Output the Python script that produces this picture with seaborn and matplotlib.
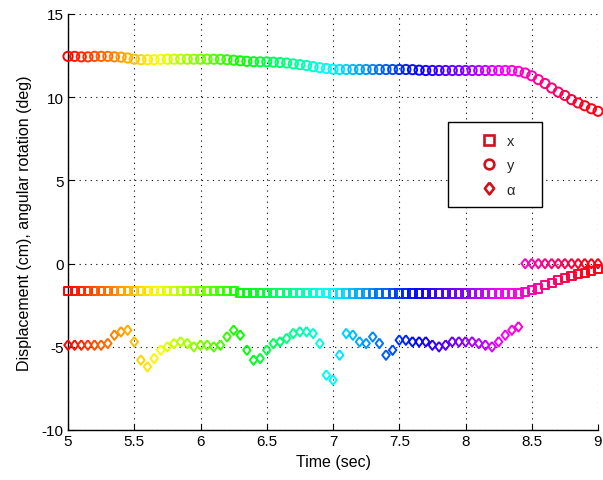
import numpy as np
import pandas as pd
import matplotlib
matplotlib.use("Agg")
import matplotlib.pyplot as plt
import seaborn as sns
from matplotlib.lines import Line2D
from matplotlib.patches import Rectangle

# ---------------- data ----------------
time = [round(5.0 + 0.05 * i, 2) for i in range(81)]

y_disp = [12.45, 12.45, 12.42, 12.42, 12.45, 12.45, 12.45, 12.42, 12.40, 12.35,
          12.28, 12.25, 12.25, 12.25, 12.27, 12.28, 12.28, 12.28, 12.28, 12.28,
          12.28, 12.28, 12.28, 12.27, 12.25, 12.22, 12.18, 12.15, 12.13, 12.12,
          12.12, 12.10, 12.08, 12.05, 12.00, 11.95, 11.90, 11.83, 11.77, 11.72,
          11.68, 11.66, 11.66, 11.66, 11.66, 11.66, 11.66, 11.66, 11.66, 11.66,
          11.66, 11.66, 11.65, 11.62, 11.60, 11.60, 11.60, 11.60, 11.60, 11.60,
          11.60, 11.60, 11.60, 11.60, 11.60, 11.60, 11.60, 11.60, 11.55, 11.45,
          11.28, 11.05, 10.82, 10.55, 10.30, 10.10, 9.85, 9.65, 9.48, 9.30,
          9.15]

x_disp = [-1.65] * 26 + [-1.75] * 14 + [-1.80] * 29 + \
         [-1.70, -1.60, -1.50, -1.30, -1.15, -1.00, -0.85, -0.75, -0.65, -0.55,
          -0.45, -0.35]

alpha_rot = [-4.9, -4.9, -4.9, -4.9, -4.9, -4.9, -4.8, -4.3, -4.1, -4.0,
             -4.7, -5.8, -6.2, -5.7, -5.2, -5.0, -4.8, -4.7, -4.8, -5.0,
             -4.9, -4.9, -5.0, -4.9, -4.4, -4.0, -4.3, -5.2, -5.8, -5.7,
             -5.2, -4.8, -4.7, -4.5, -4.2, -4.1, -4.1, -4.2, -4.8, -6.7,
             -7.0, -5.5, -4.2, -4.3, -4.7, -4.8, -4.4, -4.8, -5.5, -5.2,
             -4.6, -4.6, -4.7, -4.7, -4.7, -4.9, -5.0, -4.9, -4.7, -4.7,
             -4.7, -4.7, -4.8, -4.9, -5.0, -4.7, -4.3, -4.0, -3.8,
             0.0, 0.0, 0.0, 0.0, 0.0, 0.0, 0.0, 0.0, 0.0, 0.0, 0.0, 0.0]

series_names = ["x", "y", "\u03b1"]
x_ticks = [5, 5.5, 6, 6.5, 7, 7.5, 8, 8.5, 9]
x_tick_labels = ["5", "5.5", "6", "6.5", "7", "7.5", "8", "8.5", "9"]
y_ticks = [-10, -5, 0, 5, 10, 15]
y_tick_labels = ["-10", "-5", "0", "5", "10", "15"]

# ---------------- plot ----------------
sns.set_theme(style="white")
plt.rcParams["font.family"] = ["Liberation Sans", "DejaVu Sans"]

fig = plt.figure(figsize=(6.03, 4.81), dpi=100)
ax = fig.add_axes([0.1128, 0.104, 0.8789, 0.865])

df = pd.DataFrame({
    "time": time * 3,
    "value": x_disp + y_disp + alpha_rot,
    "series": [series_names[0]] * 81 + [series_names[1]] * 81 + [series_names[2]] * 81,
})

diamond = [(0, 1), (0.78, 0), (0, -1), (-0.78, 0), (0, 1)]
marker_map = {"x": ("s", 34), "y": ("o", 44), "\u03b1": (diamond, 48)}
for name in series_names:
    sub = df[df["series"] == name]
    mk, sz = marker_map[name]
    sns.scatterplot(data=sub, x="time", y="value", hue="time", palette="hsv",
                    hue_norm=(5, 8.9), marker=mk, s=sz, legend=False, ax=ax,
                    linewidth=1.4, clip_on=False, zorder=3)
    coll = ax.collections[-1]
    fc = coll.get_facecolors()
    coll.set_edgecolors(fc)
    coll.set_facecolors("none")
    coll.set_linewidths(1.4)

ax.set_xlim(5, 9)
ax.set_ylim(-10, 15)
ax.set_xticks(x_ticks)
ax.set_xticklabels(x_tick_labels)
ax.set_yticks(y_ticks)
ax.set_yticklabels(y_tick_labels)
ax.tick_params(axis="both", direction="in", length=4, width=0.8, colors="black",
               labelsize=11, pad=3, left=True, bottom=True)
ax.grid(True, linestyle=(0, (1, 4)), color="black", linewidth=0.8)
for side in ["top", "right"]:
    ax.spines[side].set_visible(False)
for side in ["left", "bottom"]:
    ax.spines[side].set_color("black")
    ax.spines[side].set_linewidth(1.0)

ax.set_xlabel("Time (sec)", fontsize=11.5, color="black", labelpad=4)
ax.set_ylabel("Displacement (cm), angular rotation (deg)", fontsize=11.5,
              color="black", labelpad=7)

# legend box
ax.add_patch(Rectangle((0.717, 0.536), 0.177, 0.204, transform=ax.transAxes,
                       facecolor="white", edgecolor="black", linewidth=1.0,
                       zorder=5, clip_on=False))
handles = [Line2D([], [], linestyle="none", marker=marker_map[n][0],
                  markersize=7 if n != "\u03b1" else 8.5,
                  markerfacecolor="none", markeredgecolor="#d0101a",
                  markeredgewidth=1.9) for n in series_names]
leg = ax.legend(handles, series_names, loc="center",
                bbox_to_anchor=(0.812, 0.636), frameon=False,
                fontsize=10.5, handletextpad=0.7, borderpad=0,
                labelspacing=0.7, borderaxespad=0, handlelength=1.0)
leg.set_zorder(6)

fig.savefig("out.png", dpi=100)
